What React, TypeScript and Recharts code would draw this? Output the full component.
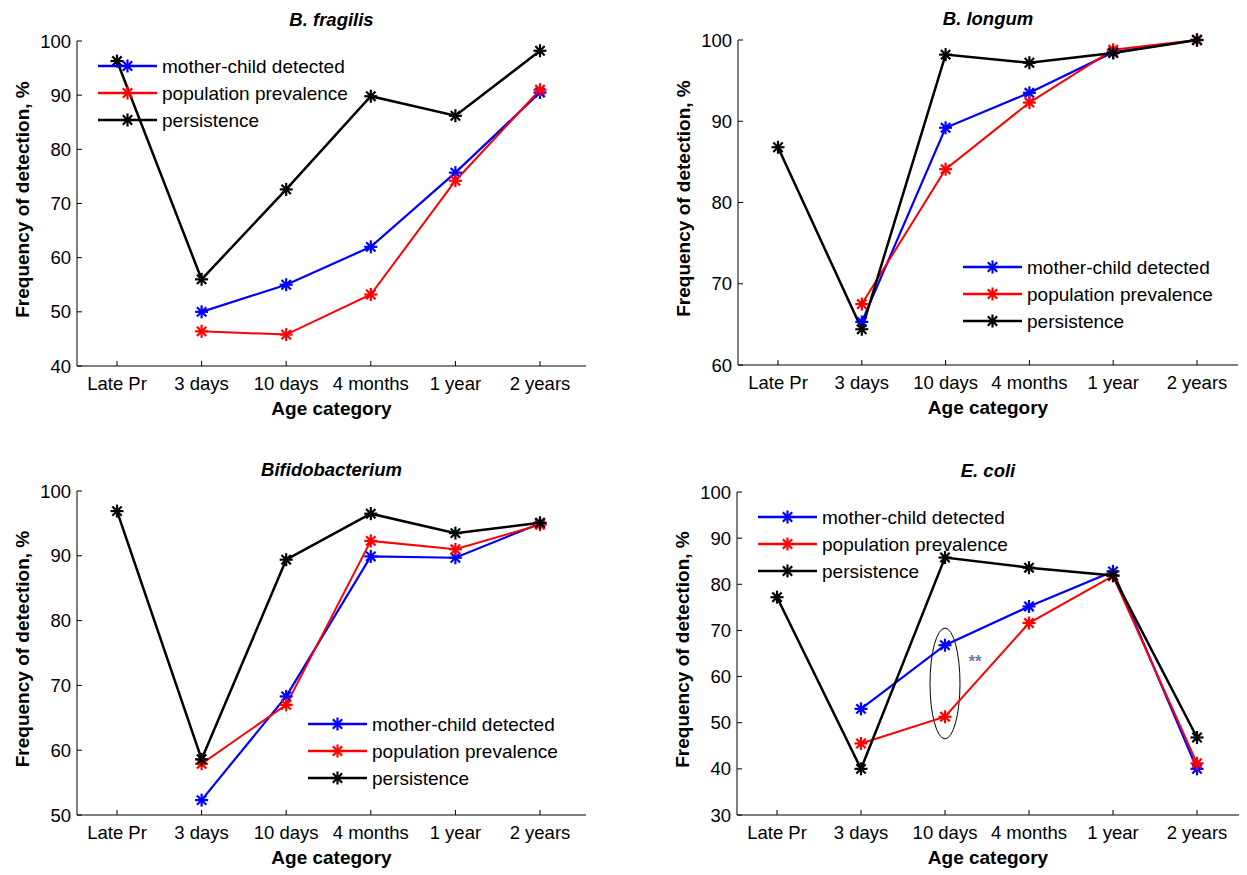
import React from "react";
import { Legend, Line, LineChart, ReferenceArea, XAxis, YAxis } from "recharts";

const categories = ["Late Pr", "3 days", "10 days", "4 months", "1 year", "2 years"];

const fragilisMother = [null, 50, 55, 62, 75.7, 90.5];
const fragilisPopulation = [null, 46.4, 45.8, 53.2, 74.2, 91];
const fragilisPersistence = [96.3, 56, 72.6, 89.8, 86.2, 98.2];

const longumMother = [null, 65.3, 89.2, 93.5, 98.5, 100];
const longumPopulation = [null, 67.5, 84.1, 92.3, 98.8, 100];
const longumPersistence = [86.8, 64.4, 98.2, 97.2, 98.4, 100];

const bifidoMother = [null, 52.3, 68.3, 89.9, 89.7, 95];
const bifidoPopulation = [null, 57.9, 67, 92.3, 91, 94.8];
const bifidoPersistence = [96.9, 58.6, 89.4, 96.5, 93.5, 95.1];

const coliMother = [null, 53, 66.8, 75.2, 82.8, 40];
const coliPopulation = [null, 45.5, 51.3, 71.6, 81.8, 41.2];
const coliPersistence = [77.2, 40, 85.8, 83.6, 81.9, 46.8];

const seriesNames = ["mother-child detected", "population prevalence", "persistence"];

// significance mark around 10 days in E. coli
const coliMarkCategory = "10 days";
const coliMarkLow = 46.5;
const coliMarkHigh = 70.5;

const FONT = "'Liberation Sans', Arial, Helvetica, sans-serif";

function build(m: (number | null)[], p: (number | null)[], s: (number | null)[]) {
  return categories.map((cat, i) => ({ cat, mother: m[i], population: p[i], persistence: s[i] }));
}

function Star({ cx, cy, color }: { cx: number; cy: number; color: string }) {
  const r = 6.5;
  const d = r * 0.72;
  return (
    <g stroke={color} strokeWidth={2.2}>
      <line x1={cx - r} y1={cy} x2={cx + r} y2={cy} />
      <line x1={cx} y1={cy - r} x2={cx} y2={cy + r} />
      <line x1={cx - d} y1={cy - d} x2={cx + d} y2={cy + d} />
      <line x1={cx - d} y1={cy + d} x2={cx + d} y2={cy - d} />
    </g>
  );
}

const makeDot = (color: string) => (props: any) => {
  const { cx, cy, index, value } = props;
  if (cx == null || cy == null || value == null) return <g key={index} />;
  return <Star key={index} cx={cx} cy={cy} color={color} />;
};

const BottomTick = (props: any) => {
  const { x, y, payload } = props;
  return (
    <g>
      <line x1={x} y1={y} x2={x} y2={y - 5} stroke="#000" />
      <text x={x} y={y + 17} textAnchor="middle" dominantBaseline="central" fontSize={18.5} fontFamily={FONT} fill="#000">
        {payload.value}
      </text>
    </g>
  );
};

const TopTick = (props: any) => <line x1={props.x} y1={props.y} x2={props.x} y2={props.y + 5} stroke="#000" />;

const LeftTick = (props: any) => {
  const { x, y, payload } = props;
  return (
    <g>
      <line x1={x} y1={y} x2={x + 5} y2={y} stroke="#000" />
      <text x={x - 6} y={y} textAnchor="end" dominantBaseline="central" fontSize={18.5} fontFamily={FONT} fill="#000">
        {payload.value}
      </text>
    </g>
  );
};

const RightTick = (props: any) => <line x1={props.x} y1={props.y} x2={props.x - 5} y2={props.y} stroke="#000" />;

const LegendBox = (props: any) => {
  const items = [...(props.payload || [])].sort(
    (a: any, b: any) => seriesNames.indexOf(a.value) - seriesNames.indexOf(b.value)
  );
  return (
    <svg width={280} height={80} style={{ display: "block" }}>
      {items.map((it: any, i: number) => {
        const y = 13 + 27 * i;
        return (
          <g key={i}>
            <line x1={0} y1={y} x2={59} y2={y} stroke={it.color} strokeWidth={2.5} />
            <Star cx={29.5} cy={y} color={it.color} />
            <text x={64} y={y} dominantBaseline="central" fontSize={19} fontFamily={FONT} fill="#000">
              {it.value}
            </text>
          </g>
        );
      })}
    </svg>
  );
};

const EllipseMark = (props: any) => {
  const { x, y, width, height } = props;
  const cx = x + width / 2;
  const cy = y + height / 2;
  return (
    <g>
      <ellipse cx={cx} cy={cy} rx={15} ry={height / 2} fill="none" stroke="#000" strokeWidth={1} />
      <text x={cx + 30} y={cy - 22} textAnchor="middle" dominantBaseline="central" fontSize={17} fontWeight="bold" fontFamily={FONT} fill="#6f7f96">
        **
      </text>
    </g>
  );
};

type PanelProps = {
  title: string;
  data: any[];
  box: { left: number; top: number; width: number; height: number };
  domain: [number, number];
  ticks: number[];
  pad: { left: number; right: number };
  legendAt: { left: number; top: number };
  mark?: boolean;
};

function Panel({ title, data, box, domain, ticks, pad, legendAt, mark }: PanelProps) {
  const ML = 77;
  const MT = 41;
  const left = box.left - ML;
  const top = box.top - MT;
  const w = box.width + ML + 8;
  const h = box.height + MT + 60;
  return (
    <div style={{ position: "absolute", left, top }}>
      <LineChart width={w} height={h} data={data} margin={{ top: MT, left: ML - 60, right: 8, bottom: 5 }}>
        <XAxis
          xAxisId="b"
          dataKey="cat"
          height={55}
          padding={pad}
          tickSize={0}
          tickMargin={0}
          tickLine={false}
          interval={0}
          axisLine={{ stroke: "#000" }}
          tick={<BottomTick />}
          label={(p: any) => {
            const vb = p.viewBox;
            const cx = vb.x + vb.width / 2;
            return (
              <g>
                <text x={cx} y={vb.y + 42} textAnchor="middle" dominantBaseline="central" fontSize={19} fontWeight="bold" fontFamily={FONT}>
                  Age category
                </text>
                <text x={cx} y={vb.y - box.height - 22} textAnchor="middle" dominantBaseline="central" fontSize={18.5} fontWeight="bold" fontStyle="italic" fontFamily={FONT}>
                  {title}
                </text>
              </g>
            );
          }}
        />
        <XAxis
          xAxisId="t"
          orientation="top"
          dataKey="cat"
          height={0}
          padding={pad}
          tickSize={0}
          tickMargin={0}
          tickLine={false}
          interval={0}
          axisLine={{ stroke: "#000" }}
          tick={<TopTick />}
        />
        <YAxis
          yAxisId="l"
          width={60}
          domain={domain}
          ticks={ticks}
          type="number"
          tickSize={0}
          tickMargin={0}
          tickLine={false}
          axisLine={{ stroke: "#000" }}
          tick={<LeftTick />}
          label={(p: any) => {
            const vb = p.viewBox;
            const x = vb.x + vb.width - 55;
            const y = vb.y + vb.height / 2 - 4;
            return (
              <text x={x} y={y} transform={`rotate(-90, ${x}, ${y})`} textAnchor="middle" dominantBaseline="central" fontSize={19} fontWeight="bold" fontFamily={FONT}>
                Frequency of detection, %
              </text>
            );
          }}
        />
        <YAxis
          yAxisId="r"
          orientation="right"
          width={0}
          domain={domain}
          ticks={ticks}
          type="number"
          tickSize={0}
          tickMargin={0}
          tickLine={false}
          axisLine={{ stroke: "#000" }}
          tick={<RightTick />}
        />
        {mark && (
          <ReferenceArea
            xAxisId="b"
            yAxisId="l"
            x1={coliMarkCategory}
            x2={coliMarkCategory}
            y1={coliMarkLow}
            y2={coliMarkHigh}
            shape={<EllipseMark />}
          />
        )}
        <Line xAxisId="b" yAxisId="l" dataKey="mother" name={seriesNames[0]} stroke="#0000ff" strokeWidth={2.2} dot={makeDot("#0000ff")} isAnimationActive={false} />
        <Line xAxisId="b" yAxisId="l" dataKey="population" name={seriesNames[1]} stroke="#ff0000" strokeWidth={2} dot={makeDot("#ff0000")} isAnimationActive={false} />
        <Line xAxisId="b" yAxisId="l" dataKey="persistence" name={seriesNames[2]} stroke="#000000" strokeWidth={2.5} dot={makeDot("#000000")} isAnimationActive={false} />
        <Legend
          layout="horizontal"
          verticalAlign="middle"
          align="center"
          content={<LegendBox />}
          wrapperStyle={{ left: legendAt.left - left, top: legendAt.top - top, width: 280, height: 80 }}
        />
      </LineChart>
    </div>
  );
}

export default function App() {
  return (
    <div style={{ position: "absolute", left: 0, top: 0, width: 1247, height: 875, background: "#fff", fontFamily: FONT }}>
      <Panel
        title="B. fragilis"
        data={build(fragilisMother, fragilisPopulation, fragilisPersistence)}
        box={{ left: 77, top: 41, width: 509, height: 325 }}
        domain={[40, 100]}
        ticks={[40, 50, 60, 70, 80, 90, 100]}
        pad={{ left: 40, right: 46 }}
        legendAt={{ left: 98, top: 53 }}
      />
      <Panel
        title="B. longum"
        data={build(longumMother, longumPopulation, longumPersistence)}
        box={{ left: 738, top: 40, width: 500, height: 325 }}
        domain={[60, 100]}
        ticks={[60, 70, 80, 90, 100]}
        pad={{ left: 40, right: 41 }}
        legendAt={{ left: 963, top: 254 }}
      />
      <Panel
        title="Bifidobacterium"
        data={build(bifidoMother, bifidoPopulation, bifidoPersistence)}
        box={{ left: 77, top: 491, width: 509, height: 324 }}
        domain={[50, 100]}
        ticks={[50, 60, 70, 80, 90, 100]}
        pad={{ left: 40, right: 46 }}
        legendAt={{ left: 308, top: 711 }}
      />
      <Panel
        title="E. coli"
        data={build(coliMother, coliPopulation, coliPersistence)}
        box={{ left: 737, top: 492, width: 502, height: 323 }}
        domain={[30, 100]}
        ticks={[30, 40, 50, 60, 70, 80, 90, 100]}
        pad={{ left: 40, right: 42 }}
        legendAt={{ left: 758, top: 504 }}
        mark
      />
    </div>
  );
}
